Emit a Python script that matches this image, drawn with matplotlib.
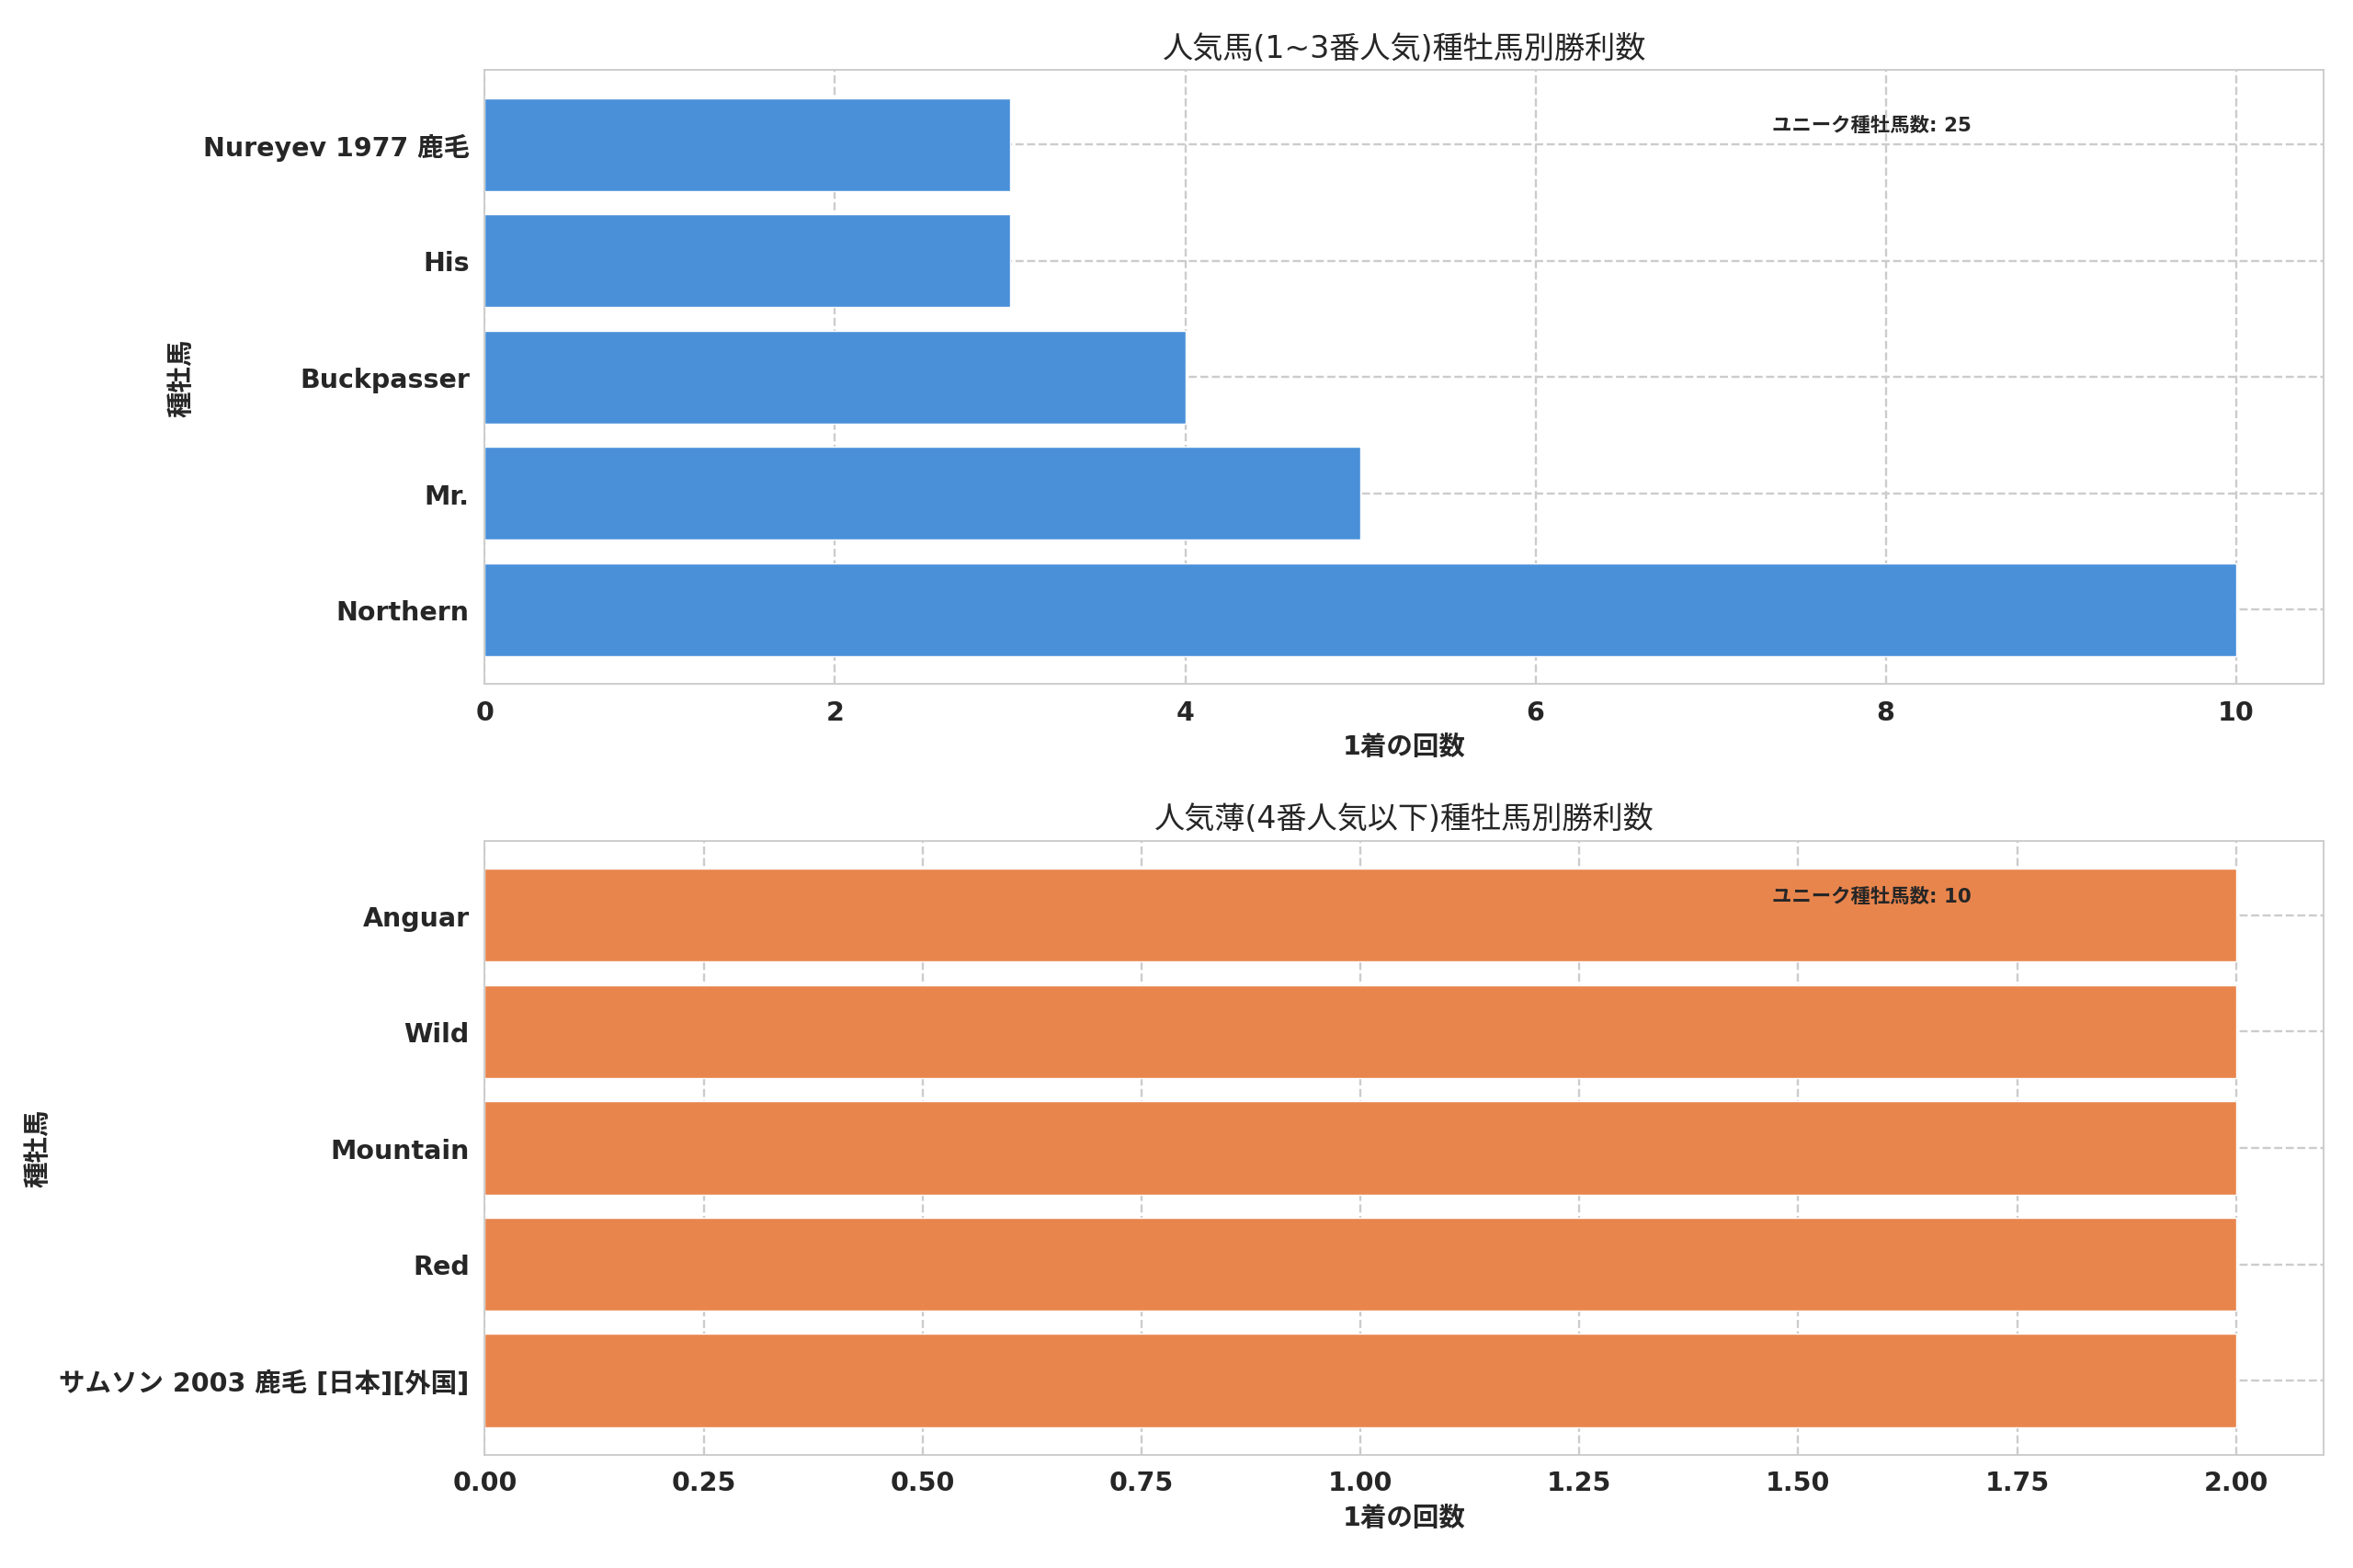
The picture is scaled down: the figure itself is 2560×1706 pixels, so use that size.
import matplotlib
import matplotlib.pyplot as plt
import seaborn as sns

matplotlib.use("Agg")

TOP_SIRES = ["Northern", "Mr.", "Buckpasser", "His", "Nureyev 1977 鹿毛"]
TOP_WINS = [10, 5, 4, 3, 3]
TOP_TOTAL = 25

LOW_SIRES = ["サムソン 2003 鹿毛 [日本][外国]", "Red", "Mountain", "Wild", "Anguar"]
LOW_WINS = [2, 2, 2, 2, 2]
LOW_TOTAL = 10

TITLES = ["人気馬(1~3番人気)種牡馬別勝利数", "人気薄(4番人気以下)種牡馬別勝利数"]
XLABEL = "1着の回数"
YLABEL = "種牡馬"
NOTE = "ユニーク種牡馬数"
COLORS = ["#4a90d9", "#e8854d"]

FONTS = ["DejaVu Sans", "Noto Sans CJK JP"]


def draw_panel(ax, sires, wins, total, title, color):
    ax.barh(sires, wins, color=color, edgecolor="white", linewidth=0.6, zorder=2)
    ax.set_title(title, fontsize=14, family=FONTS)
    ax.set_xlabel(XLABEL, fontsize=12, fontweight="bold", family=FONTS)
    ax.set_ylabel(YLABEL, fontsize=12, fontweight="bold", family=FONTS)
    ax.grid(True, linestyle="--", color="#cccccc", linewidth=1.0, zorder=0)
    ax.set_axisbelow(True)
    for lbl in ax.get_xticklabels() + ax.get_yticklabels():
        lbl.set_fontweight("bold")
        lbl.set_fontsize(12)
        lbl.set_family(FONTS)
    ax.text(0.70, 0.91, f"{NOTE}: {total}", transform=ax.transAxes, fontsize=9,
            fontweight="bold", va="center", family=FONTS)


def main():
    sns.set_style("whitegrid")
    plt.rcParams["font.family"] = FONTS

    fig, (ax1, ax2) = plt.subplots(2, 1, figsize=(15, 10))
    draw_panel(ax1, TOP_SIRES, TOP_WINS, TOP_TOTAL, TITLES[0], COLORS[0])
    draw_panel(ax2, LOW_SIRES, LOW_WINS, LOW_TOTAL, TITLES[1], COLORS[1])

    plt.subplots_adjust(left=0.206, right=0.9875, top=0.955, bottom=0.072, hspace=0.255)
    plt.savefig("out.png", dpi=2560 / 15)
    plt.close()


if __name__ == "__main__":
    main()
